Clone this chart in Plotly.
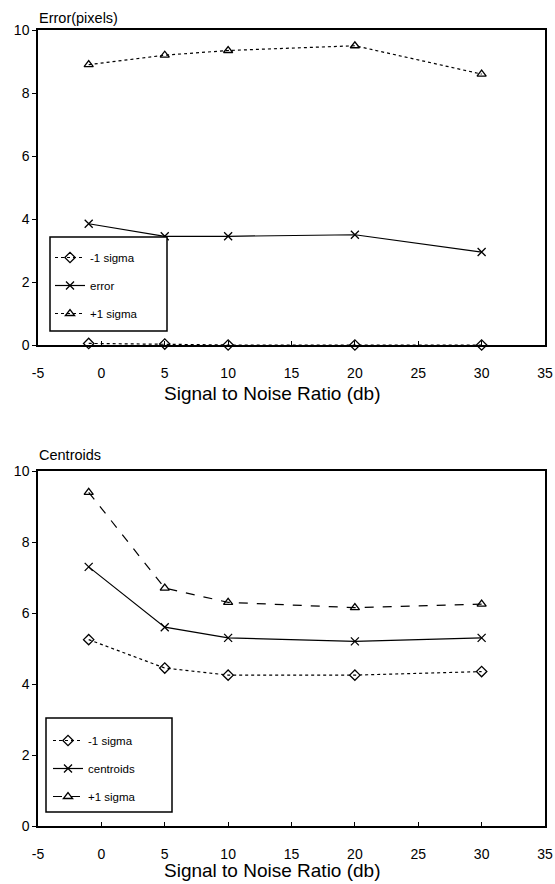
import plotly.graph_objects as go

snr = [-1, 5, 10, 20, 30]

err_minus = [0.05, 0.03, 0.0, 0.0, 0.0]
err_mean = [3.85, 3.45, 3.45, 3.5, 2.95]
err_plus = [8.9, 9.2, 9.35, 9.5, 8.6]

cen_minus = [5.25, 4.45, 4.25, 4.25, 4.35]
cen_mean = [7.3, 5.6, 5.3, 5.2, 5.3]
cen_plus = [9.4, 6.7, 6.3, 6.15, 6.25]

xticks = [-5, 0, 5, 10, 15, 20, 25, 30, 35]
xticklabels = ["-5", "0", "5", "10", "15", "20", "25", "30", "35"]
yticks = [0, 2, 4, 6, 8, 10]

FONT = "Liberation Sans, Arial, sans-serif"
W, H = 555, 884

def py(p):
    return 1 - p / H

def px(p):
    return p / W

fig = go.Figure()

def add(x, y, name, symbol, dash, xa, ya, legend, group):
    fig.add_trace(go.Scatter(
        x=x, y=y, name=name, mode="lines+markers",
        line=dict(color="black", width=1.2, dash=dash),
        marker=dict(symbol=symbol, size=8, color="black",
                    line=dict(color="black", width=1.3)),
        xaxis=xa, yaxis=ya, legend=legend, legendgroup=group, cliponaxis=False,
    ))

add(snr, err_minus, "-1 sigma", "diamond-open", "dot", "x", "y", "legend", "a1")
add(snr, err_mean, "error", "x-thin-open", "solid", "x", "y", "legend", "a2")
add(snr, err_plus, "+1 sigma", "triangle-up-open", "dot", "x", "y", "legend", "a3")

add(snr, cen_minus, "-1 sigma", "diamond-open", "dot", "x2", "y2", "legend2", "b1")
add(snr, cen_mean, "centroids", "x-thin-open", "solid", "x2", "y2", "legend2", "b2")
add(snr, cen_plus, "+1 sigma", "triangle-up-open", "dash", "x2", "y2", "legend2", "b3")

xcommon = dict(range=[-5, 35], tickvals=xticks, ticktext=xticklabels, showgrid=False,
               zeroline=False, automargin=False, ticklabelstandoff=14,
               showline=True, linecolor="black", linewidth=1.5, mirror=True,
               ticks="inside", ticklen=4, tickcolor="black",
               tickfont=dict(family=FONT, size=14, color="black"))
ycommon = dict(range=[0, 10], tickvals=yticks, showgrid=False, zeroline=False,
               automargin=False,
               showline=True, linecolor="black", linewidth=1.5, mirror=True,
               ticks="outside", ticklen=4, tickcolor="black",
               tickfont=dict(family=FONT, size=14, color="black"))

legcommon = dict(bgcolor="rgba(0,0,0,0)", borderwidth=0,
                 font=dict(family=FONT, size=11.5, color="black"),
                 xanchor="left", yanchor="top", itemwidth=30, tracegroupgap=9)

def box(x0, y0, x1, y1):
    return dict(type="rect", xref="paper", yref="paper",
                x0=px(x0), x1=px(x1), y0=py(y1), y1=py(y0),
                line=dict(color="black", width=1.5), fillcolor="white", layer="above")

def label(text, x, y, size, anchor="left"):
    return dict(text=text, x=px(x), y=py(y), xref="paper", yref="paper",
                xanchor=anchor, yanchor="middle", showarrow=False,
                font=dict(family=FONT, size=size, color="black"))

fig.update_layout(
    width=W, height=H, paper_bgcolor="white", plot_bgcolor="white",
    margin=dict(l=0, r=0, t=0, b=0, autoexpand=False),
    xaxis=dict(**xcommon, domain=[px(38), px(545)], anchor="y"),
    yaxis=dict(**ycommon, domain=[py(345), py(30)], anchor="x"),
    xaxis2=dict(**xcommon, domain=[px(38), px(545)], anchor="y2"),
    yaxis2=dict(**ycommon, domain=[py(826), py(471)], anchor="x2"),
    legend=dict(**legcommon, x=px(50), y=py(243)),
    legend2=dict(**legcommon, x=px(48), y=py(726)),
    shapes=[box(50, 237, 167, 331), box(46, 718, 172, 812)],
    annotations=[
        label("Error(pixels)", 37, 18, 14.5),
        label("Centroids", 37, 455, 14.5),
        label("Signal to Noise Ratio (db)", 272, 393, 19, "center"),
        label("Signal to Noise Ratio (db)", 272, 870, 19, "center"),
    ],
)

fig.write_html(
    "out.html",
    config={"displayModeBar": False},
    post_script="document.body.style.margin='0';document.body.style.overflow='hidden';",
)
